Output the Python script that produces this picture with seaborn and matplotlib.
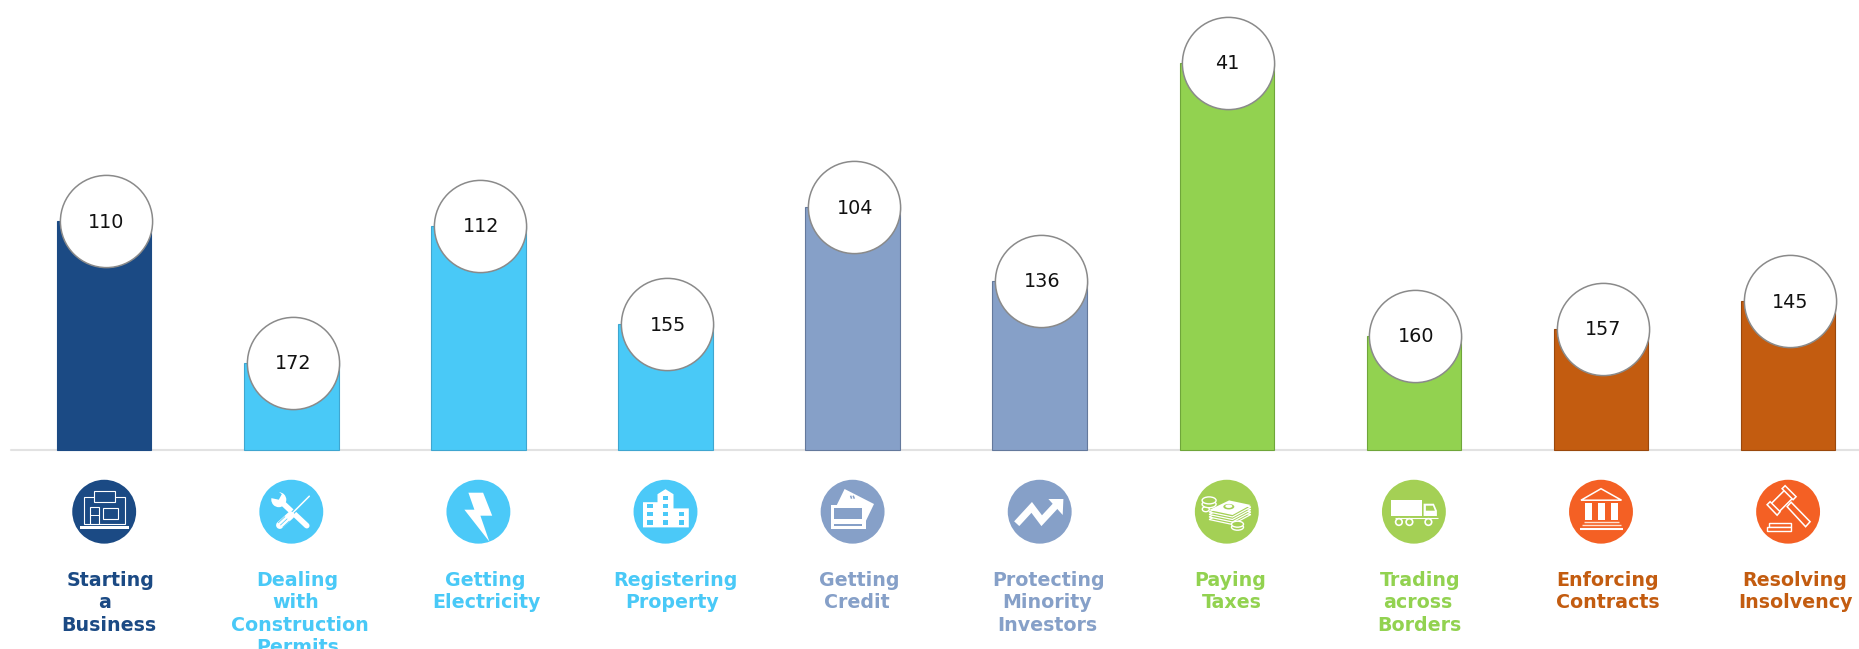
import numpy as np
import pandas as pd
import matplotlib
matplotlib.use("Agg")
import matplotlib.pyplot as plt
import seaborn as sns
from matplotlib.patches import Polygon, Rectangle, Circle, Ellipse
from matplotlib.transforms import Affine2D, ScaledTranslation

sns.set_theme(style="white")
plt.rcParams['font.family'] = ['DejaVu Sans']

# data
categories = ["Starting a Business", "Dealing with Construction Permits", "Getting Electricity",
              "Registering Property", "Getting Credit", "Protecting Minority Investors",
              "Paying Taxes", "Trading across Borders", "Enforcing Contracts", "Resolving Insolvency"]
ranks = [110, 172, 112, 155, 104, 136, 41, 160, 157, 145]
bar_heights = [100, 38, 98, 55, 106, 74, 169, 50, 53, 65]
label_lines = [["Starting", "a", "Business"], ["Dealing", "with", "Construction", "Permits"],
               ["Getting", "Electricity"], ["Registering", "Property"], ["Getting", "Credit"],
               ["Protecting", "Minority", "Investors"], ["Paying", "Taxes"],
               ["Trading", "across", "Borders"], ["Enforcing", "Contracts"], ["Resolving", "Insolvency"]]

bar_colors = ["#1B4A84", "#49C9F7", "#49C9F7", "#49C9F7", "#86A0C8", "#86A0C8",
              "#92D250", "#92D250", "#C35C10", "#C35C10"]
edge_colors = ["#1B4A84", "#3FA6D0", "#3FA6D0", "#3FA6D0", "#64799C", "#64799C",
               "#6FA63A", "#6FA63A", "#9A480C", "#9A480C"]
icon_colors = ["#1B4A84", "#4BC9F8", "#4BC9F8", "#4BC9F8", "#86A0C8", "#86A0C8",
               "#A4D055", "#A4D055", "#F46024", "#F46024"]
# the labels are not quite centred in the source, px right of the bar centre per line
line_shift = [[6.8, 0.2, 4.5], [5.7, 4, 8.7, 6.8], [6.4, 8], [9.5, 7], [6.6, 4.7],
              [8.5, 7.3, 7.3], [3.8, 5], [5.8, 3.8, 5.8], [6.5, 7.3], [6.5, 7.6]]

W, H = 1859, 649
X0, PITCH = 104.2, 187.1     # px of the first bar, px between bars
BASE, UNIT = 450, 2.29       # px of the baseline, px per bar height unit
ICON_Y = -(511.7 - BASE) / UNIT

fig = plt.figure(figsize=(W / 100, H / 100), dpi=100, facecolor="white")
ax = fig.add_axes([0, 0, 1, 1])

df = pd.DataFrame({"category": categories, "height": bar_heights})
sns.barplot(data=df, x="category", y="height", hue="category", order=categories,
            palette=bar_colors, width=0.505, saturation=1, legend=False, ax=ax)
for bar, ec in zip(ax.patches, edge_colors):
    bar.set_edgecolor(ec)
    bar.set_linewidth(0.8)

ax.set_xlim(-X0 / PITCH, (W - X0) / PITCH)
ax.set_ylim(-(H - BASE) / UNIT, BASE / UNIT)
ax.axis("off")
ax.plot([(11 - X0) / PITCH, (W - X0) / PITCH], [0, 0], color="#E2E2E2", lw=1.5, zorder=0.5)

pos = np.arange(len(categories))

# white value badges on top of the bars
sns.scatterplot(x=pos + 1.5 / PITCH, y=bar_heights, s=66.4 ** 2, color="white",
                edgecolor="#8A8A8A", linewidth=1.1, zorder=5, legend=False, ax=ax)
for i, (r, h) in enumerate(zip(ranks, bar_heights)):
    ax.annotate(str(r), (i, h), xytext=(2.2 if r > 99 else 0, -1), textcoords="offset pixels",
                ha="center", va="center", fontsize=13.8, color="#111111", zorder=6)

# icon discs
ax.scatter(pos, [ICON_Y] * len(pos), s=46 ** 2, c=icon_colors, linewidths=0, zorder=3)


def icon_tf(i):
    # glyphs are written in px around the disc centre, y pointing down
    return Affine2D().scale(1, -1) + ScaledTranslation(i, ICON_Y, ax.transData)


def add(tf, patch):
    patch.set_transform(tf)
    patch.set_zorder(4)
    patch.set_clip_on(False)
    ax.add_patch(patch)


def fill(tf, pts, color="white"):
    add(tf, Polygon(pts, closed=True, fc=color, ec="none"))


def outline(tf, pts, bg, lw=0.8):
    add(tf, Polygon(pts, closed=True, fc=bg, ec="white", lw=lw))


def box(tf, x0, y0, x1, y1, color="white"):
    add(tf, Rectangle((x0, y0), x1 - x0, y1 - y0, fc=color, ec="none"))


def rbox(tf, x0, y0, x1, y1, bg, lw=0.8):
    add(tf, Rectangle((x0, y0), x1 - x0, y1 - y0, fc=bg, ec="white", lw=lw))


def stroke(tf, xs, ys, lw, color="white", cap="round"):
    ax.plot(xs, ys, color=color, lw=lw, transform=tf, solid_capstyle=cap,
            solid_joinstyle="miter", zorder=4, clip_on=False)


# 0 store
tf, c = icon_tf(0), icon_colors[0]
rbox(tf, -20.5, -15, 21, 12, c)
rbox(tf, -10.7, -21, 11, -10, c)
rbox(tf, -14.6, -5, -5.5, 12, c)
stroke(tf, [-14.6, -5.5], [3, 3], 0.7, cap="butt")
rbox(tf, -1.6, -3.3, 13.4, 7.3, c)
box(tf, -24.5, 14.7, 25, 17.3)

# 1 wrench and screwdriver
tf, c = icon_tf(1), icon_colors[1]
stroke(tf, [-9, 15.5], [-9, 14], 4.0)
add(tf, Circle((-12.5, -12), 7.5, fc="white", ec="none"))
fill(tf, [(-22, -14), (-15, -22), (-9.5, -17.5), (-12.5, -12)], c)
stroke(tf, [-1, 18], [3.5, -15.5], 2.6, color=c, cap="butt")
stroke(tf, [-1, 18], [3.5, -15.5], 1.1)
stroke(tf, [-11.5, -0.5], [13.5, 3.5], 5.4)
for d in (-2.2, 0, 2.2):
    stroke(tf, [-11 + d, -4 + d], [13.5 + d, 7 + d], 0.5, color=c, cap="butt")

# 2 bolt
fill(icon_tf(2), [(-10, -19), (4.7, -19), (13.8, 4), (2, 4), (11, 30), (-14, -2), (-4, -2)])

# 3 building
tf, c = icon_tf(3), icon_colors[3]
fill(tf, [(-22.5, -9.5), (-8, -9.5), (-8, -17.5), (0, -22.5), (8, -17.5), (8, -3.3),
          (23.3, -3.3), (23.3, 15.7), (-22.5, 15.7)])
for wx, wy in [(0, -14), (-15.4, -6), (0, -6), (-15.4, 2.3), (0, 2.3), (15.8, 2.3),
               (-15.4, 10.7), (0, 10.7), (15.8, 10.7)]:
    box(tf, wx - 2.7, wy - 2.2, wx + 2.7, wy + 2.2, c)

# 4 cards
tf, c = icon_tf(4), icon_colors[4]
fill(tf, [(-8, -22.7), (21.4, -7.7), (13.4, 9), (13.4, -6.7), (-15.8, -6.7)])
for d in (0, 2.5):
    stroke(tf, [-2 + d, -1 + d * 1.1], [-16, -13], 1.1, color=c, cap="butt")
box(tf, -21.7, -6.7, 13.4, 17.3)
box(tf, -19, -3.3, 9.5, 7.3, c)
box(tf, -19, 12.3, 9.5, 14.7, c)

# 5 growth arrow
tf = icon_tf(5)
stroke(tf, [-23, -8, 2, 17.5], [12, -4.3, 9, -7.7], 5.0, cap="butt")
fill(tf, [(8.7, -12.7), (23.7, -12.7), (23, 3.3)])

# 6 money
tf, c = icon_tf(6), icon_colors[6]
for d in (9.5, 7, 4.5, 2):
    outline(tf, [(-17.7, -1.7 + d), (2.3, -11.3 + d), (24, -6.7 + d), (5.7, 3.3 + d)], c, 0.9)
fill(tf, [(-17.7, -1.7), (2.3, -11.3), (24, -6.7), (5.7, 3.3)])
add(tf, Ellipse((2, -5), 11, 5.5, fc=c, ec="none"))
add(tf, Ellipse((2, -5.5), 7, 3.5, fc="white", ec="none"))
for cx, cy, ew, eh in [(-21, -2.5, 7, 5), (-17.7, -7.5, 14, 7), (-17.7, -11.3, 14, 7),
                       (10.7, 15.5, 12, 6), (10.7, 12.5, 12, 6)]:
    add(tf, Ellipse((cx, cy), ew, eh, fc=c, ec="white", lw=1.0))

# 7 truck
tf, c = icon_tf(7), icon_colors[7]
box(tf, -22.7, -11.3, 8.3, 4.3)
fill(tf, [(9.7, -8), (20, -8), (23, -1), (23, 4.3), (9.7, 4.3)])
fill(tf, [(12, -6), (19, -6), (21, -1), (12, -1)], c)
stroke(tf, [-19, 24], [6, 6], 0.8, cap="butt")
for wx in (-15, -4.5, 14.5):
    add(tf, Circle((wx, 10.3), 3.3, fc=c, ec="white", lw=1.2))

# 8 bank
tf, c = icon_tf(8), icon_colors[8]
outline(tf, [(-20, -11.5), (0, -23), (20.5, -11.5)], c, 1.1)
for x0, x1 in [(-16, -8.7), (-3.3, 4), (9.7, 17.3)]:
    box(tf, x0, -9, x1, 8.5)
stroke(tf, [-17, 17.5], [10, 10], 1.0, cap="butt", color="#FFE0D0")
stroke(tf, [-19.5, 19.5], [13.3, 13.3], 1.0, cap="butt", color="#FFE0D0")
stroke(tf, [-21.5, 22], [17, 17], 1.5, cap="butt")

# 9 gavel
tf, c = icon_tf(9), icon_colors[9]
outline(tf, [(-1, -5), (3, -9.5), (22, 10), (17.5, 15)], c, 1.1)
outline(tf, [(-17, -8), (-3, -22), (5, -14), (-10, 1)], c, 1.1)
outline(tf, [(-21, -7), (-18, -10), (-8, 0), (-11, 3.5)], c, 1.1)
outline(tf, [(-6, -23), (-3, -26), (8, -15), (5, -12)], c, 1.1)
rbox(tf, -19, 11, 3, 15.5, c, 1.0)
rbox(tf, -21, 15.5, 3, 19, c, 1.0)

# category labels below the icons
for i, lines in enumerate(label_lines):
    for j, line in enumerate(lines):
        ax.annotate(line, (i, 0), xytext=(line_shift[i][j], -(585.7 + 22.5 * j - BASE)),
                    textcoords="offset pixels", ha="center", va="baseline",
                    fontsize=13.7, fontweight="bold", color=bar_colors[i], annotation_clip=False)

fig.savefig("out.png", dpi=100, facecolor="white")
